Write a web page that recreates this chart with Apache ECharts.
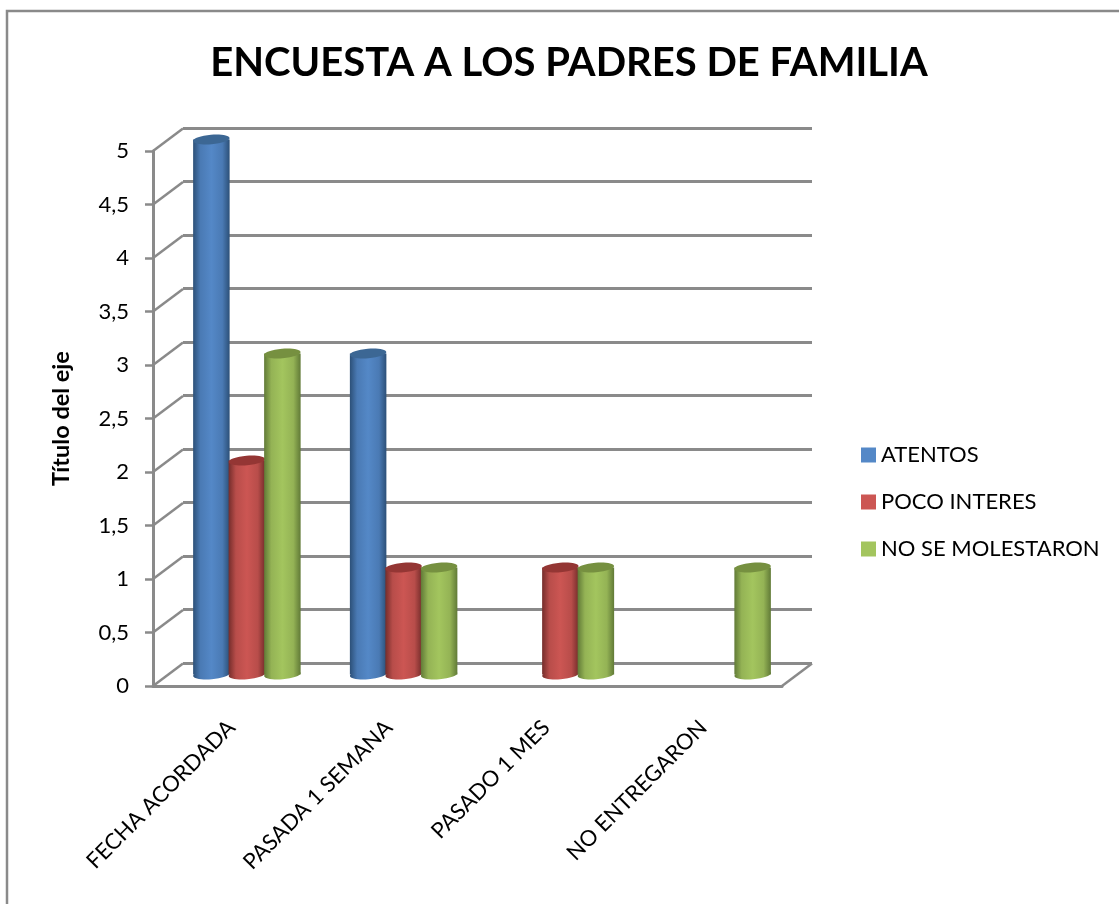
<!DOCTYPE html>
<html><head><meta charset="utf-8">
<style>html,body{margin:0;padding:0;background:#fff}#c{width:1119px;height:904px}</style>
<script src="https://cdn.jsdelivr.net/npm/echarts@6/dist/echarts.min.js"></script>
</head><body><div id="c"></div>
<script>
const categories = ['FECHA ACORDADA','PASADA 1 SEMANA','PASADO 1 MES','NO ENTREGARON'];
const atentos = [5,3,0,0];
const pocoInteres = [2,1,1,0];
const noMolestaron = [3,1,1,1];
const yTicks = [0,0.5,1,1.5,2,2.5,3,3.5,4,4.5,5];
const seriesNames = ['ATENTOS','POCO INTERES','NO SE MOLESTARON'];
const seriesValues = [atentos,pocoInteres,noMolestaron];
const palette = [
 {base:'#4a7ab4',mid:'#5488c7',edge:'#2c5078',top:'#3c6794'},
 {base:'#b84d4a',mid:'#cc5653',edge:'#752d2b',top:'#943634'},
 {base:'#94b355',mid:'#a3c55e',edge:'#617a37',top:'#769040'}
];
const GRAY='#8a8a8a', FONT='Lato, "Noto Sans", sans-serif';
const DEPTH=[30,-22.5];
const BAR_W=35.5;

function grad(c){return new echarts.graphic.LinearGradient(0,0,1,0,[
 {offset:0,color:c.edge},{offset:.2,color:c.base},{offset:.5,color:c.mid},{offset:.8,color:c.base},{offset:1,color:c.edge}]);}

function cylinder(si){return function(params,api){
  const v=api.value(1); if(!v) return null;
  const top=api.coord([api.value(0),v]), base=api.coord([api.value(0),0]);
  const x=top[0]+(si-1)*BAR_W, c=palette[si], rx=BAR_W/2+.5, ry=4.8, rot=0.08;
  return {type:'group',children:[
    {type:'ellipse',shape:{cx:x,cy:base[1],rx:rx,ry:ry},rotation:rot,originX:x,originY:base[1],style:{fill:grad(c)}},
    {type:'rect',shape:{x:x-rx,y:top[1],width:rx*2,height:base[1]-top[1]},style:{fill:grad(c)}},
    {type:'ellipse',shape:{cx:x,cy:top[1],rx:rx,ry:ry},rotation:rot,originX:x,originY:top[1],style:{fill:c.top}}
  ]};
};}

function sideWall(params,api){
  const cs=params.coordSys, y=api.coord([0,api.value(0)])[1], x=cs.x;
  return {type:'line',shape:{x1:x,y1:y,x2:x+DEPTH[0],y2:y+DEPTH[1]},style:{stroke:GRAY,lineWidth:2.5}};
}
function floorEdge(params,api){
  const cs=params.coordSys, y=api.coord([0,0])[1], x=cs.x+cs.width;
  return {type:'line',shape:{x1:x,y1:y,x2:x+DEPTH[0],y2:y+DEPTH[1]},style:{stroke:GRAY,lineWidth:2.5}};
}

const hiddenCat=i=>({type:'category',gridIndex:i,data:categories,axisLine:{show:false},axisTick:{show:false},axisLabel:{show:false},splitLine:{show:false}});
const option={
 animation:false,backgroundColor:'#fff',
 title:{text:'ENCUESTA A LOS PADRES DE FAMILIA',left:564,top:38,textAlign:'center',
   textStyle:{fontFamily:FONT,fontSize:40,fontWeight:'bold',color:'#000'}},
 graphic:[{type:'polyline',silent:true,z:-1,shape:{points:[[7,904],[7,11],[1119,11]]},style:{stroke:GRAY,lineWidth:2.5,fill:null}}],
 legend:{orient:'vertical',left:861,top:444,icon:'rect',itemWidth:15,itemHeight:15,itemGap:25,data:seriesNames,selectedMode:false,
   textStyle:{fontFamily:FONT,fontSize:22,color:'#000'},padding:0,itemStyle:{borderWidth:0}},
 grid:[
  {left:153,top:151,width:629,height:535},
  {left:183,top:128,width:629,height:535},
  {left:168.5,top:139.5,width:627,height:535}
 ],
 xAxis:[
  {type:'category',gridIndex:0,data:categories,axisTick:{show:false},
   axisLine:{lineStyle:{color:GRAY,width:3}},
   axisLabel:{rotate:45,interval:0,margin:38,fontFamily:FONT,fontSize:22,color:'#000'}},
  hiddenCat(1),hiddenCat(2)
 ],
 yAxis:[
  {type:'value',gridIndex:0,min:0,max:5,interval:0.5,name:'Título del eje',nameLocation:'middle',nameGap:80,
   nameTextStyle:{fontFamily:FONT,fontSize:23.5,fontWeight:'bold',color:'#000'},
   axisLine:{show:true,onZero:false,lineStyle:{color:GRAY,width:3}},
   axisTick:{show:true,length:8,lineStyle:{color:GRAY,width:2.5}},
   splitLine:{show:false},
   axisLabel:{margin:24,fontFamily:FONT,fontSize:22,color:'#000',formatter:v=>String(v).replace('.',',')}},
  {type:'value',gridIndex:1,min:0,max:5,interval:0.5,axisLine:{show:false},axisTick:{show:false},axisLabel:{show:false},
   splitLine:{show:true,lineStyle:{color:GRAY,width:3}}},
  {type:'value',gridIndex:2,min:0,max:5,interval:0.5,axisLine:{show:false},axisTick:{show:false},axisLabel:{show:false},splitLine:{show:false}}
 ],
 series:[
  {type:'custom',name:'walls',xAxisIndex:0,yAxisIndex:0,silent:true,z:1,renderItem:sideWall,data:yTicks.map(v=>[v]),encode:{y:0}},
  {type:'custom',name:'floor',xAxisIndex:0,yAxisIndex:0,silent:true,z:1,renderItem:floorEdge,data:[[0]],encode:{y:0}},
  ...seriesNames.map((n,si)=>({type:'custom',name:n,xAxisIndex:2,yAxisIndex:2,z:5+si,
    itemStyle:{color:palette[si].mid},renderItem:cylinder(si),
    data:seriesValues[si].map((v,i)=>[i,v]),encode:{x:0,y:1}}))
 ]
};
const chart=echarts.init(document.getElementById('c'),null,{renderer:'canvas'});
chart.setOption(option);
</script></body></html>
